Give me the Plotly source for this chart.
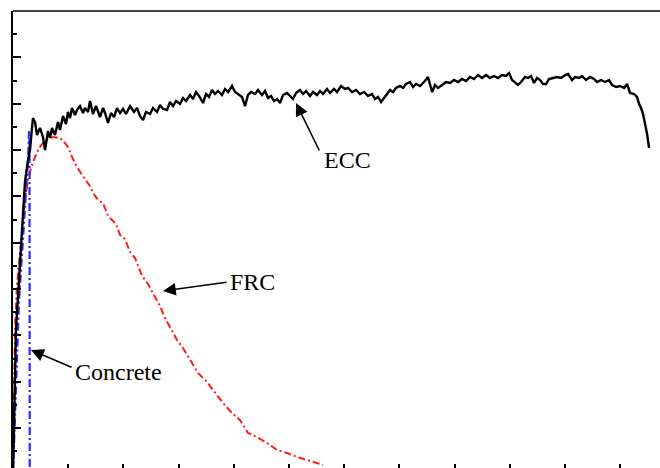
import plotly.graph_objects as go

# ---- data (x: strain in tick units, y: stress in major-tick units) ----
ecc_x = [0.0, 0.018, 0.054, 0.109, 0.163, 0.217, 0.272, 0.308, 0.344, 0.362, 0.399, 0.435, 0.489, 0.543,
         0.580, 0.634, 0.670, 0.707, 0.761, 0.815, 0.851, 0.906, 0.960, 0.996, 1.033, 1.069, 1.123, 1.159,
         1.214, 1.268, 1.304, 1.359, 1.395, 1.449, 1.504, 1.540, 1.576, 1.630, 1.667, 1.721, 1.775, 1.830,
         1.884, 1.938, 1.993, 2.047, 2.120, 2.192, 2.246, 2.301, 2.355, 2.409, 2.482, 2.536, 2.609, 2.663,
         2.717, 2.790, 2.844, 2.899, 2.953, 3.025, 3.080, 3.134, 3.207, 3.261, 3.315, 3.370, 3.442, 3.496,
         3.551, 3.605, 3.659, 3.714, 3.786, 3.841, 3.895, 3.967, 4.022, 4.076, 4.149, 4.203, 4.257, 4.312,
         4.384, 4.438, 4.511, 4.565, 4.620, 4.674, 4.728, 4.783, 4.837, 4.891, 4.964, 5.018, 5.072, 5.127,
         5.199, 5.254, 5.308, 5.380, 5.435, 5.507, 5.562, 5.616, 5.688, 5.743, 5.815, 5.870, 5.942, 6.014,
         6.069, 6.141, 6.214, 6.286, 6.359, 6.431, 6.504, 6.558, 6.612, 6.667, 6.721, 6.775, 6.830, 6.884,
         6.938, 7.011, 7.065, 7.120, 7.192, 7.246, 7.301, 7.373, 7.446, 7.518, 7.554, 7.591, 7.645, 7.699,
         7.772, 7.844, 7.917, 7.989, 8.062, 8.134, 8.207, 8.279, 8.351, 8.424, 8.496, 8.569, 8.641, 8.714,
         8.786, 8.859, 8.931, 8.986, 9.040, 9.094, 9.149, 9.203, 9.275, 9.330, 9.384, 9.438, 9.493, 9.547,
         9.601, 9.656, 9.710, 9.783, 9.855, 9.928, 10.000, 10.054, 10.127, 10.181, 10.254, 10.308, 10.380,
         10.453, 10.525, 10.580, 10.652, 10.725, 10.797, 10.851, 10.924, 10.996, 11.069, 11.123, 11.178,
         11.250, 11.304, 11.341, 11.377, 11.413, 11.449, 11.486, 11.522]
ecc_y = [0.0, 1.176, 3.118, 4.196, 5.275, 6.311, 6.785, 7.001, 7.476, 7.691, 7.605, 7.325, 7.476, 7.282,
         7.001, 7.411, 7.260, 7.476, 7.325, 7.605, 7.433, 7.735, 7.562, 7.821, 7.691, 7.907, 7.756, 7.864,
         7.950, 7.799, 7.907, 7.821, 8.058, 7.778, 7.950, 7.821, 7.713, 7.907, 7.799, 7.584, 7.799, 7.713,
         7.907, 7.799, 7.886, 7.778, 7.950, 7.821, 7.907, 7.735, 7.648, 7.821, 7.778, 7.907, 7.821, 7.972,
         7.886, 7.864, 8.037, 7.950, 8.058, 7.994, 8.123, 8.058, 8.188, 8.101, 8.252, 8.166, 8.015, 8.209,
         8.145, 8.296, 8.209, 8.274, 8.188, 8.317, 8.252, 8.382, 8.252, 8.209, 8.145, 7.950, 8.188, 8.252,
         8.209, 8.296, 8.188, 8.274, 8.123, 8.166, 8.058, 8.101, 8.015, 8.188, 8.231, 8.166, 8.101, 8.231,
         8.296, 8.209, 8.274, 8.166, 8.252, 8.188, 8.274, 8.209, 8.317, 8.231, 8.317, 8.252, 8.382, 8.317,
         8.339, 8.252, 8.296, 8.209, 8.252, 8.166, 8.209, 8.101, 8.145, 8.037, 8.123, 8.231, 8.296, 8.252,
         8.339, 8.382, 8.339, 8.425, 8.468, 8.360, 8.425, 8.382, 8.468, 8.576, 8.425, 8.252, 8.404, 8.339,
         8.404, 8.468, 8.447, 8.511, 8.468, 8.533, 8.490, 8.576, 8.533, 8.619, 8.554, 8.619, 8.554, 8.598,
         8.554, 8.619, 8.598, 8.662, 8.511, 8.447, 8.404, 8.468, 8.576, 8.554, 8.598, 8.447, 8.554, 8.511,
         8.425, 8.425, 8.533, 8.554, 8.576, 8.554, 8.619, 8.641, 8.511, 8.576, 8.554, 8.598, 8.511,
         8.576, 8.533, 8.468, 8.511, 8.468, 8.511, 8.404, 8.360, 8.382, 8.339, 8.425, 8.231,
         8.209, 8.145, 7.994, 7.907, 7.778, 7.584, 7.346, 7.044]

frc_x = [0.0, 0.018, 0.036, 0.072, 0.109, 0.163, 0.217, 0.272, 0.326, 0.399, 0.471, 0.543, 0.634, 0.725,
         0.851, 0.924, 0.996, 1.069, 1.159, 1.250, 1.322, 1.395, 1.486, 1.558, 1.630, 1.721, 1.793, 1.866,
         1.938, 2.029, 2.120, 2.210, 2.337, 2.446, 2.572, 2.663, 2.754, 2.844, 2.971, 3.080, 3.207, 3.351,
         3.514, 3.659, 3.804, 3.967, 4.112, 4.257, 4.420, 4.601, 4.783, 4.964, 5.145, 5.326, 5.507, 5.616]
frc_y = [0.0, 1.607, 3.118, 4.088, 4.585, 5.167, 5.922, 6.354, 6.613, 6.850, 7.044, 7.152, 7.238, 7.282,
         7.260, 7.174, 7.066, 6.850, 6.634, 6.462, 6.332, 6.224, 6.009, 5.901, 5.858, 5.577, 5.491, 5.405,
         5.167, 5.081, 4.800, 4.671, 4.283, 4.110, 3.830, 3.635, 3.376, 3.182, 2.902, 2.729, 2.470, 2.190,
         1.996, 1.758, 1.543, 1.327, 1.176, 0.895, 0.809, 0.680, 0.529, 0.464, 0.378, 0.313, 0.248, 0.205]

con_x = [0.0, 0.036, 0.072, 0.109, 0.145, 0.199, 0.236, 0.272, 0.290, 0.299, 0.303]
con_y = [0.0, 1.392, 2.686, 3.765, 4.412, 5.383, 6.030, 6.785, 7.411, 7.300, 0.0]

labels = ["ECC", "FRC", "Concrete"]
label_xy = [(6.051, 6.785), (4.330, 4.153), (1.920, 2.211)]
arrow_tail = [(5.562, 6.958), (3.895, 4.153), (1.087, 2.298)]
arrow_tip = [(5.127, 8.015), (2.717, 3.959), (0.326, 2.686)]

fig = go.Figure()
fig.add_trace(go.Scatter(x=frc_x, y=frc_y, mode="lines", name="FRC",
                         line=dict(color="#ff1a1a", width=2, dash="7px,3px,2px,3px")))
fig.add_trace(go.Scatter(x=con_x, y=con_y, mode="lines", name="Concrete",
                         line=dict(color="#2a2aff", width=2.2, dash="8px,3px,2px,3px")))
fig.add_trace(go.Scatter(x=ecc_x, y=ecc_y, mode="lines", name="ECC",
                         line=dict(color="black", width=2.4)))

font = dict(family="Liberation Serif, Times New Roman, serif", size=24, color="black")
for lab, (lx, ly), (tx, ty), (hx, hy) in zip(labels, label_xy, arrow_tail, arrow_tip):
    fig.add_annotation(x=lx, y=ly, text=lab, showarrow=False, font=font, xref="x", yref="y")
    fig.add_annotation(x=hx, y=hy, ax=tx, ay=ty, xref="x", yref="y", axref="x", ayref="y",
                       text="", showarrow=True, arrowhead=2, arrowsize=1.6, arrowwidth=1.6,
                       arrowcolor="black")

fig.add_shape(type="line", xref="paper", yref="paper", x0=0, x1=1, y0=1, y1=1,
              line=dict(color="black", width=1.5))

fig.update_layout(
    width=660, height=468,
    margin=dict(l=13, r=0, t=11, b=0),
    paper_bgcolor="white", plot_bgcolor="white",
    showlegend=False,
    xaxis=dict(range=[0, 11.72], showgrid=False, zeroline=False, showline=False,
               ticks="inside", ticklen=4, tickwidth=1.5, tickcolor="black",
               tick0=0, dtick=1, showticklabels=False),
    yaxis=dict(range=[10 - 457 / 46.35, 10], showgrid=False, zeroline=False,
               showline=True, linecolor="black", linewidth=1.5,
               ticks="inside", ticklen=8, tickwidth=1.5, tickcolor="black",
               tick0=0, dtick=1, showticklabels=False,
               minor=dict(ticks="inside", ticklen=4, tickwidth=1.5, tickcolor="black", dtick=0.5)),
)

fig.write_html("out.html", config={"displayModeBar": False},
               post_script="document.body.style.margin='0';document.body.style.overflow='hidden';")
